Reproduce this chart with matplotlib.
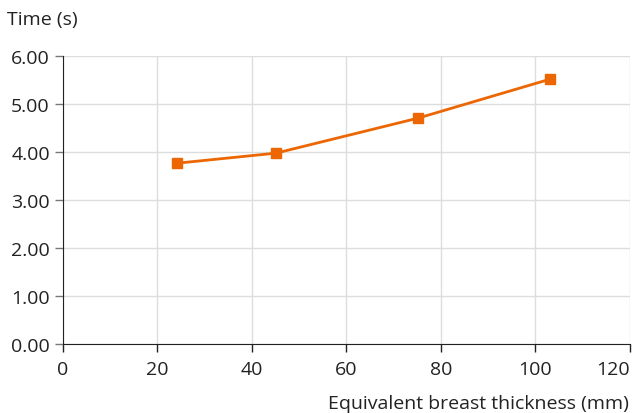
import numpy as np
import matplotlib
matplotlib.use('Agg')
import matplotlib.pyplot as plt

# Data
thickness = [24.1, 45.1, 75.2, 103.1]     # mm
times = [3.77, 3.98, 4.71, 5.52]          # s
xticks = [0, 20, 40, 60, 80, 100, 120]
yticks = [0, 1, 2, 3, 4, 5, 6]

plt.rcParams['font.family'] = ['Open Sans', 'DejaVu Sans']
txt = '#222222'
fs = 14

fig = plt.figure(figsize=(6.33, 4.14), dpi=100)
ax = fig.add_axes([0.0995, 0.166, 0.8955, 0.696])

ax.plot(thickness, times, color='#ec6602', lw=2, marker='s', ms=7,
        mec='#ec6602', mfc='#ec6602', zorder=3, clip_on=False)

ax.set_xlim(0, 120)
ax.set_ylim(0, 6)
ax.set_xticks(xticks)
ax.set_yticks(yticks)
ax.set_yticklabels(['%.2f' % v for v in yticks])
ax.grid(True, color='#dddddd', lw=1)
ax.set_axisbelow(True)

for s in ['top', 'right']:
    ax.spines[s].set_visible(False)
ax.spines['left'].set_color('#222222')
ax.spines['bottom'].set_color('#222222')
ax.tick_params(axis='x', direction='out', length=5.5, width=1, color='#222222',
               labelsize=fs, labelcolor=txt, pad=6)
ax.tick_params(axis='y', direction='out', length=5.5, width=1, color='#777777',
               labelsize=fs, labelcolor=txt, pad=4)
# last x label kept inside the figure, like the original
ax.get_xticklabels()[-1].set_ha('right')
ax.get_xticklabels()[-1].set_x(120)

fig.text(7/633, 1-20/414, 'Time (s)', fontsize=fs, color=txt,
         ha='left', va='center')
fig.text(629/633, 1-404/414, 'Equivalent breast thickness (mm)', fontsize=fs,
         color=txt, ha='right', va='center')

fig.savefig('out.png', dpi=100)
